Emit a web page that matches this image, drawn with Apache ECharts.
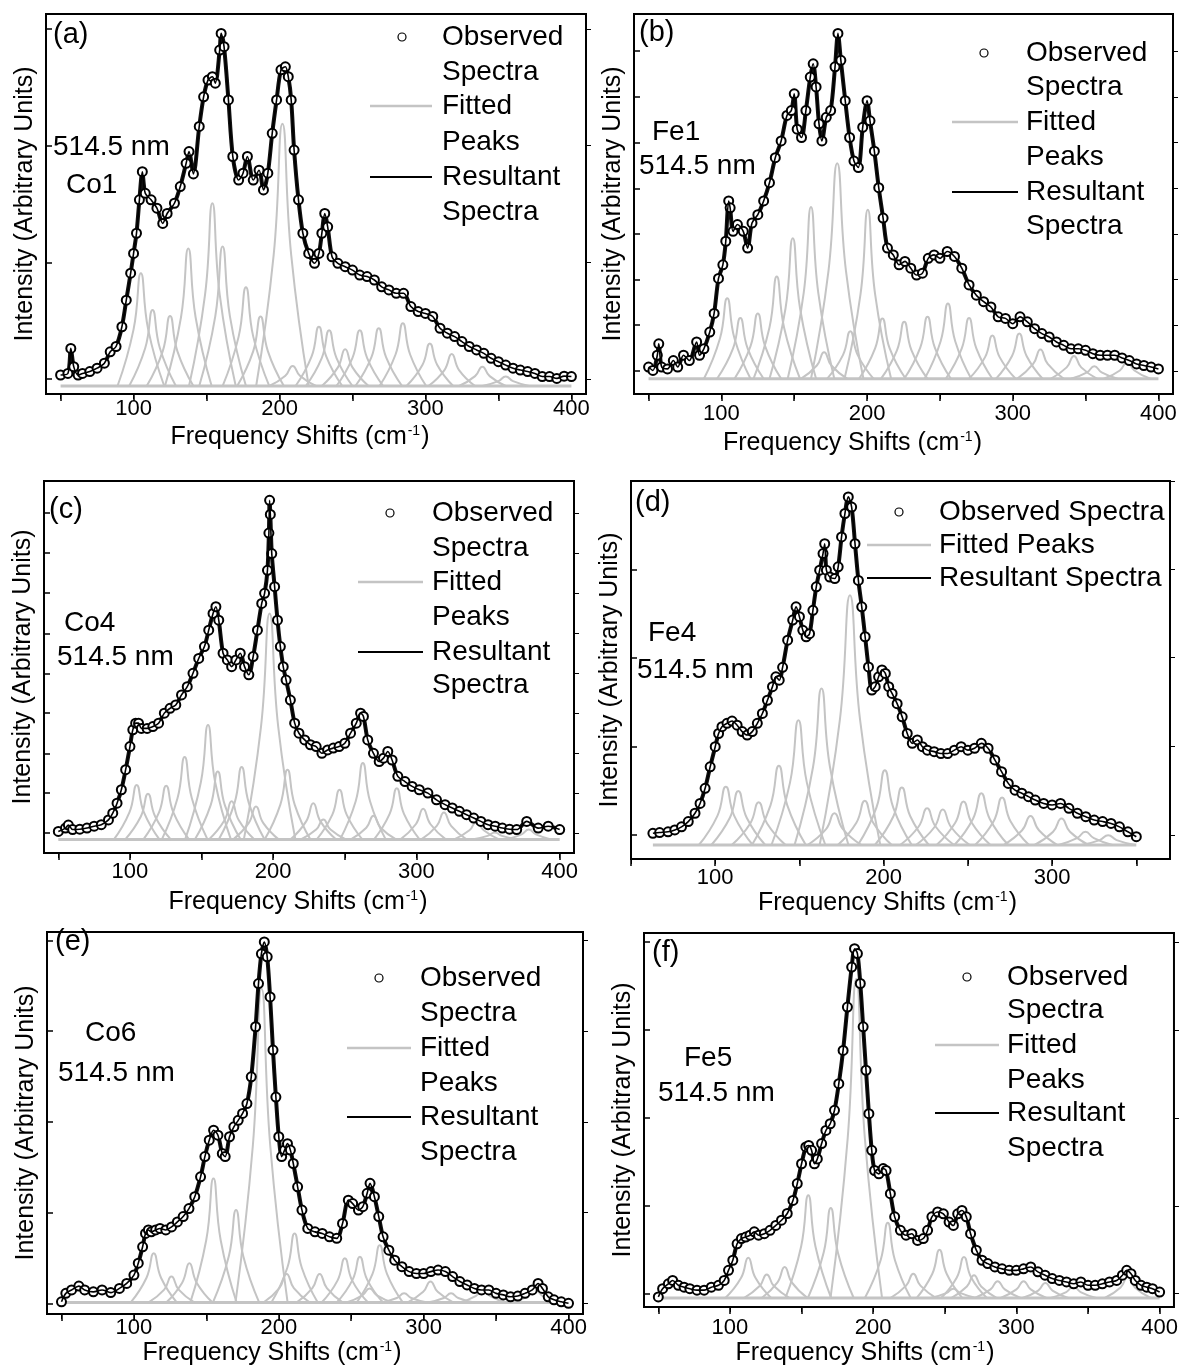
<!DOCTYPE html>
<html>
<head>
<meta charset="utf-8">
<script src="https://cdn.jsdelivr.net/npm/echarts@6/dist/echarts.min.js"></script>
<style>
  html, body { margin: 0; background: #fff; }
  #chart { width: 1181px; height: 1372px; }
</style>
</head>
<body>
<div id="chart"></div>
<script>
// Raman spectra, six samples. y is read as % of plot height (arbitrary units)
const xTicks = [50, 100, 150, 200, 250, 300, 350, 400];
const xLabels = [100, 200, 300, 400];

const yTicksA = [3.9, 34.6, 65.4, 96];
const yTicksB = [6, 18.1, 30.1, 42.1, 54.1, 66.2, 78.2, 90.3];
const yTicksC = [5.4, 16.1, 26.8, 37.6, 48.3, 59, 69.9, 80.7, 91.4];
const yTicksD = [6.3, 29.8, 53.3, 76.6, 100];
const yTicksE = [2.8, 26.6, 50.3, 74.1, 97.8];
const yTicksF = [3.6, 27, 50.6, 74, 97.6];

// baseline level of the fitted peaks
const baseA = 2.1, baseB = 4.0, baseC = 3.6, baseD = 3.7, baseE = 3.0, baseF = 2.4;

// observed spectra [shift, intensity]
const obsA = [[50,5.0],[55,5.4],[57,12.0],[59,7.2],[62,5.0],[65,5.4],[70,5.9],[75,6.8],[80,8.1],[84,11.1],[88,12.5],[92,17.7],[95,24.7],[98,31.8],[100,37.0],[102,42.3],[104,51.1],[106,58.5],[108,52.8],[112,51.1],[116,48.9],[120,44.9],[123,47.5],[128,50.2],[132,54.6],[136,60.7],[138,63.8],[141,57.9],[145,70.4],[148,78.2],[151,82.6],[154,83.5],[156,81.8],[159,90.5],[160,94.9],[162,91.4],[165,77.4],[168,62.5],[172,56.3],[175,58.1],[178,62.5],[182,56.3],[186,58.9],[189,53.7],[192,58.1],[195,68.6],[198,77.4],[201,85.3],[204,86.1],[206,83.5],[208,77.4],[210,64.2],[213,51.1],[216,42.3],[220,37.0],[224,34.4],[227,37.0],[229,42.3],[231,47.5],[233,44.0],[236,36.1],[240,34.4],[245,33.5],[250,32.6],[255,31.3],[260,30.9],[265,30.0],[270,28.2],[275,27.4],[280,26.5],[285,26.5],[290,23.0],[295,21.7],[300,21.2],[305,20.4],[310,17.3],[315,16.0],[320,15.1],[325,13.8],[330,12.5],[335,11.6],[340,10.7],[345,9.4],[350,8.5],[355,7.6],[360,6.8],[365,6.3],[370,5.9],[375,5.4],[380,4.6],[385,4.6],[390,4.1],[395,4.7],[400,4.6]];
const obsB = [[50,7.1],[53,6.2],[56,10.2],[57,13.2],[59,7.1],[63,6.6],[67,8.8],[70,7.1],[74,10.2],[78,8.8],[83,13.7],[85,10.2],[88,11.9],[92,16.3],[95,21.2],[98,30.4],[101,34.0],[103,40.2],[105,50.8],[106,49.0],[108,42.8],[111,44.6],[115,42.8],[118,38.4],[121,45.0],[125,47.2],[129,50.8],[133,55.6],[137,62.2],[141,66.6],[145,73.3],[148,74.6],[150,79.0],[152,69.7],[155,67.5],[158,74.6],[161,83.4],[163,86.9],[165,80.8],[167,71.1],[169,66.6],[172,72.8],[175,74.6],[178,86.1],[180,94.9],[182,87.8],[185,77.2],[188,67.5],[191,61.3],[194,59.6],[197,70.2],[200,77.2],[202,71.9],[205,63.9],[208,54.3],[211,46.3],[214,38.4],[218,36.6],[222,34.0],[226,34.9],[230,33.1],[234,31.3],[238,31.8],[242,35.7],[246,36.6],[250,35.7],[255,37.5],[260,36.2],[265,33.1],[270,28.7],[275,26.0],[280,24.3],[285,22.9],[290,20.3],[295,19.9],[300,18.5],[305,20.3],[310,19.0],[315,17.2],[320,15.9],[325,15.0],[330,13.7],[335,12.8],[340,11.9],[345,11.9],[350,11.5],[355,10.6],[360,10.2],[365,10.2],[370,10.2],[375,9.5],[380,8.8],[385,7.9],[390,7.5],[395,7.1],[400,6.6]];
const obsC = [[50,5.8],[55,6.7],[57,7.5],[60,6.3],[65,6.4],[70,6.7],[75,7.2],[80,7.6],[85,8.9],[88,10.7],[91,13.4],[94,17.0],[97,22.4],[100,28.6],[102,33.1],[104,34.9],[106,34.9],[108,33.5],[112,33.5],[116,34.0],[120,34.9],[124,37.6],[128,38.9],[132,39.8],[136,42.5],[140,44.7],[144,48.3],[148,52.3],[152,55.5],[155,59.9],[158,64.4],[160,66.2],[162,62.6],[165,53.7],[168,51.9],[171,50.1],[174,51.9],[177,53.7],[180,50.1],[183,47.9],[186,52.8],[189,59.9],[192,67.1],[194,69.8],[196,76.0],[197,86.0],[197.5,94.8],[198,91.0],[199,80.5],[201,71.6],[203,62.6],[205,55.5],[207,50.1],[209,46.5],[212,41.1],[215,34.9],[218,32.2],[222,30.4],[226,29.1],[230,28.6],[234,26.8],[238,27.7],[242,28.2],[246,28.6],[250,29.5],[254,32.2],[258,34.9],[261,37.6],[263,36.7],[266,30.4],[270,26.8],[274,24.6],[277,25.5],[280,27.3],[283,25.0],[287,20.6],[292,19.2],[297,17.9],[302,17.0],[308,16.1],[314,14.3],[320,13.0],[325,12.1],[330,11.2],[335,10.3],[340,9.4],[345,8.5],[350,7.6],[355,7.2],[360,6.7],[365,6.4],[370,6.3],[377,8.5],[385,6.7],[392,7.2],[400,6.3]];
const obsD = [[63,6.8],[67,7.0],[72,7.2],[76,7.7],[80,8.5],[84,9.9],[88,12.1],[91,14.7],[94,18.7],[97,24.4],[100,29.7],[102,33.2],[104,35.0],[107,35.9],[110,36.5],[113,35.4],[116,33.7],[119,32.8],[122,33.7],[125,35.9],[128,38.5],[131,42.0],[134,45.6],[136,48.2],[138,47.3],[140,50.7],[143,57.9],[146,63.2],[148,66.7],[150,64.1],[152,60.5],[154,58.8],[156,59.6],[158,65.8],[160,72.0],[162,76.4],[164,80.8],[165,83.4],[166,76.4],[168,74.6],[171,74.2],[173,77.3],[175,85.2],[177,91.4],[179,95.8],[181,93.1],[183,83.4],[185,73.7],[187,66.7],[189,58.8],[191,50.8],[193,44.7],[195,45.6],[197,48.2],[199,50.0],[201,49.1],[203,45.6],[205,43.8],[208,41.1],[211,37.6],[214,33.2],[217,30.6],[220,31.5],[223,29.7],[226,28.8],[230,28.4],[234,27.9],[238,27.9],[242,28.8],[246,29.7],[250,28.8],[254,29.3],[258,30.6],[262,29.3],[266,26.2],[270,23.1],[274,20.0],[278,18.2],[282,17.4],[286,16.5],[290,15.6],[295,14.7],[300,14.3],[305,14.7],[310,13.4],[315,12.1],[320,11.2],[325,10.3],[330,9.9],[335,9.4],[340,8.5],[345,7.2],[350,5.9]];
const obsE = [[50,3.2],[53,5.4],[57,6.3],[62,7.3],[66,6.3],[72,5.8],[78,6.3],[84,5.6],[90,6.7],[95,8.0],[100,10.2],[103,13.3],[106,17.6],[108,21.1],[110,22.0],[112,21.5],[115,22.0],[118,22.4],[122,22.0],[126,22.8],[130,24.1],[134,25.5],[138,27.6],[142,30.7],[146,35.9],[149,41.2],[152,45.5],[155,48.1],[158,46.8],[161,42.0],[163,41.2],[166,46.4],[169,49.0],[172,50.7],[175,52.5],[178,55.1],[181,62.1],[184,75.2],[186,86.5],[188,94.3],[190,97.4],[192,93.5],[194,83.0],[196,69.1],[198,56.8],[200,46.4],[202,41.2],[204,42.9],[206,44.6],[208,42.9],[210,39.4],[213,33.3],[216,27.2],[220,22.4],[225,21.5],[230,21.1],[235,20.2],[240,19.8],[244,23.7],[248,29.8],[251,28.9],[255,27.2],[258,28.1],[261,31.6],[263,34.2],[266,30.7],[269,25.5],[272,20.2],[276,16.7],[280,14.1],[285,12.4],[290,11.1],[295,10.6],[300,10.6],[305,11.1],[310,11.5],[315,11.1],[320,9.8],[325,8.5],[330,7.6],[335,6.7],[340,6.3],[345,6.3],[350,5.4],[355,5.0],[360,4.5],[365,4.7],[370,5.4],[375,6.3],[379,8.0],[382,6.7],[386,4.5],[390,3.7],[395,3.2],[400,2.8]];
const obsF = [[50,2.7],[53,4.9],[57,6.2],[60,7.1],[64,5.8],[68,5.3],[72,4.9],[77,4.5],[82,4.5],[87,5.3],[92,5.8],[96,7.1],[99,9.8],[102,12.5],[105,16.9],[108,18.3],[111,18.7],[114,19.2],[117,20.1],[120,19.2],[124,19.6],[128,20.5],[132,21.8],[136,23.2],[140,25.0],[144,28.5],[147,33.0],[150,38.3],[153,42.8],[155,43.2],[157,41.9],[159,38.3],[161,39.6],[164,43.7],[167,47.2],[170,49.0],[173,52.6],[176,59.7],[179,68.6],[182,80.2],[185,90.9],[187,95.8],[189,94.5],[191,86.5],[193,74.9],[195,63.3],[197,51.7],[199,41.9],[201,36.5],[204,35.6],[207,37.0],[209,36.5],[212,30.3],[215,24.1],[219,20.5],[223,19.2],[227,19.6],[231,17.8],[235,18.3],[238,20.5],[241,24.1],[245,25.4],[249,24.9],[253,22.7],[256,21.8],[259,24.9],[262,25.8],[265,24.1],[268,19.6],[272,15.2],[276,12.5],[280,11.6],[285,10.7],[290,10.2],[295,9.8],[300,9.8],[305,10.2],[310,10.7],[315,9.4],[320,8.5],[325,7.6],[330,7.1],[335,6.7],[340,6.2],[345,6.7],[350,5.8],[355,5.8],[360,6.2],[365,6.7],[370,7.1],[374,8.5],[377,9.8],[380,8.9],[383,7.1],[387,5.8],[391,5.3],[395,4.9],[400,4.0]];

// fitted peaks: foot, half height, top, half height, foot
const peaksA = [
  [[89,2.1],[100,17.0],[105,31.8],[110,17.0],[121,2.1]],
  [[97,2.1],[108,12.1],[113,22.1],[118,12.1],[129,2.1]],
  [[109,2.1],[120,11.3],[125,20.5],[130,11.3],[141,2.1]],
  [[121.5,2.1],[132.5,20.2],[137.5,38.3],[142.5,20.2],[153.5,2.1]],
  [[138,2.1],[149,26.2],[154,50.2],[159,26.2],[170,2.1]],
  [[145,2.1],[156,20.5],[161,38.8],[166,20.5],[177,2.1]],
  [[161,2.1],[172,15.1],[177,28.1],[182,15.1],[193,2.1]],
  [[171,2.1],[182,11.3],[187,20.4],[192,11.3],[203,2.1]],
  [[184,2.1],[196,36.6],[202,71.1],[208,36.6],[220,2.1]],
  [[193,2.1],[204,4.8],[209,7.4],[214,4.8],[225,2.1]],
  [[211,2.1],[222,9.9],[227,17.7],[232,9.9],[243,2.1]],
  [[218,2.1],[229,9.5],[234,16.8],[239,9.5],[250,2.1]],
  [[229,2.1],[240,7.0],[245,11.8],[250,7.0],[261,2.1]],
  [[239,2.1],[250,9.5],[255,16.8],[260,9.5],[271,2.1]],
  [[252,2.1],[263,9.7],[268,17.3],[273,9.7],[284,2.1]],
  [[268.5,2.1],[279.5,10.4],[284.5,18.6],[289.5,10.4],[300.5,2.1]],
  [[287,2.1],[298,7.7],[303,13.3],[308,7.7],[319,2.1]],
  [[302,2.1],[313,6.3],[318,10.5],[323,6.3],[334,2.1]],
  [[323,2.1],[334,4.7],[339,7.2],[344,4.7],[355,2.1]],
  [[339,2.1],[350,3.4],[355,4.6],[360,3.4],[371,2.1]]
];
const peaksB = [
  [[88,4],[99,14.6],[104,25.2],[109,14.6],[120,4]],
  [[97,4],[108,12.0],[113,20.0],[118,12.0],[129,4]],
  [[109,4],[120,12.6],[125,21.2],[130,12.6],[141,4]],
  [[122,4],[133,17.5],[138,30.9],[143,17.5],[154,4]],
  [[133,4],[144,22.5],[149,41.0],[154,22.5],[165,4]],
  [[145.5,4],[156.5,26.6],[161.5,49.2],[166.5,26.6],[177.5,4]],
  [[154.5,4],[165.5,7.5],[170.5,11.0],[175.5,7.5],[186.5,4]],
  [[161.5,4],[173.5,32.4],[179.5,60.7],[185.5,32.4],[197.5,4]],
  [[172.5,4],[183.5,10.3],[188.5,16.5],[193.5,10.3],[204.5,4]],
  [[184.5,4],[195.5,26.3],[200.5,48.5],[205.5,26.3],[216.5,4]],
  [[194.5,4],[205.5,12.0],[210.5,19.9],[215.5,12.0],[226.5,4]],
  [[209.5,4],[220.5,11.5],[225.5,19.0],[230.5,11.5],[241.5,4]],
  [[225.5,4],[236.5,12.2],[241.5,20.3],[246.5,12.2],[257.5,4]],
  [[239.5,4],[250.5,13.9],[255.5,23.8],[260.5,13.9],[271.5,4]],
  [[254,4],[265,12.0],[270,20.0],[275,12.0],[286,4]],
  [[270,4],[281,9.7],[286,15.4],[291,9.7],[302,4]],
  [[288.5,4],[299.5,10.0],[304.5,15.9],[309.5,10.0],[320.5,4]],
  [[303,4],[314,7.9],[319,11.7],[324,7.9],[335,4]],
  [[326,4],[337,7.0],[342,10.0],[347,7.0],[358,4]],
  [[340,4],[351,5.7],[356,7.3],[361,5.7],[372,4]],
  [[362.5,4],[373.5,6.2],[378.5,8.4],[383.5,6.2],[394.5,4]]
];
const peaksC = [
  [[88.7,3.6],[99.7,11.0],[104.7,18.3],[109.7,11.0],[120.7,3.6]],
  [[96.6,3.6],[107.6,9.8],[112.6,15.9],[117.6,9.8],[128.6,3.6]],
  [[109.3,3.6],[120.3,10.9],[125.3,18.1],[130.3,10.9],[141.3,3.6]],
  [[122.2,3.6],[133.2,14.7],[138.2,25.8],[143.2,14.7],[154.2,3.6]],
  [[138.5,3.6],[149.5,19.0],[154.5,34.4],[159.5,19.0],[170.5,3.6]],
  [[145.3,3.6],[156.3,12.8],[161.3,21.9],[166.3,12.8],[177.3,3.6]],
  [[155,3.6],[166,8.8],[171,13.9],[176,8.8],[187,3.6]],
  [[162,3.6],[173,13.4],[178,23.1],[183,13.4],[194,3.6]],
  [[172,3.6],[183,8.1],[188,12.5],[193,8.1],[204,3.6]],
  [[179.5,3.6],[191.5,34.0],[197.5,64.4],[203.5,34.0],[215.5,3.6]],
  [[194,3.6],[205,13.0],[210,22.4],[215,13.0],[226,3.6]],
  [[212,3.6],[223,8.5],[228,13.4],[233,8.5],[244,3.6]],
  [[219,3.6],[230,6.3],[235,9.0],[240,6.3],[251,3.6]],
  [[230.3,3.6],[241.3,10.3],[246.3,17.0],[251.3,10.3],[262.3,3.6]],
  [[246.6,3.6],[257.6,13.9],[262.6,24.2],[267.6,13.9],[278.6,3.6]],
  [[254,3.6],[265,6.8],[270,10.0],[275,6.8],[286,3.6]],
  [[270.3,3.6],[281.3,10.5],[286.3,17.4],[291.3,10.5],[302.3,3.6]],
  [[288.7,3.6],[299.7,7.8],[304.7,11.9],[309.7,7.8],[320.7,3.6]],
  [[303.2,3.6],[314.2,7.3],[319.2,10.9],[324.2,7.3],[335.2,3.6]],
  [[326,3.6],[337,6.1],[342,8.5],[347,6.1],[358,3.6]],
  [[338.7,3.6],[349.7,4.6],[354.7,5.5],[359.7,4.6],[370.7,3.6]],
  [[362.4,3.6],[373.4,5.0],[378.4,6.3],[383.4,5.0],[394.4,3.6]]
];
const peaksD = [
  [[90.3,3.7],[101.3,11.4],[106.3,19.1],[111.3,11.4],[122.3,3.7]],
  [[97.7,3.7],[108.7,10.9],[113.7,18.0],[118.7,10.9],[129.7,3.7]],
  [[109.8,3.7],[120.8,9.4],[125.8,15.0],[130.8,9.4],[141.8,3.7]],
  [[121.8,3.7],[132.8,14.2],[137.8,24.7],[142.8,14.2],[153.8,3.7]],
  [[133.4,3.7],[144.4,20.2],[149.4,36.7],[154.4,20.2],[165.4,3.7]],
  [[147.1,3.7],[158.1,24.4],[163.1,45.1],[168.1,24.4],[179.1,3.7]],
  [[154.8,3.7],[165.8,7.9],[170.8,12.1],[175.8,7.9],[186.8,3.7]],
  [[162,3.7],[174,36.8],[180,69.8],[186,36.8],[198,3.7]],
  [[172.8,3.7],[183.8,9.6],[188.8,15.4],[193.8,9.6],[204.8,3.7]],
  [[184.7,3.7],[195.7,13.6],[200.7,23.5],[205.7,13.6],[216.7,3.7]],
  [[194.8,3.7],[205.8,11.3],[210.8,18.9],[215.8,11.3],[226.8,3.7]],
  [[209.8,3.7],[220.8,8.6],[225.8,13.4],[230.8,8.6],[241.8,3.7]],
  [[219.1,3.7],[230.1,8.4],[235.1,13.1],[240.1,8.4],[251.1,3.7]],
  [[231.4,3.7],[242.4,9.5],[247.4,15.2],[252.4,9.5],[263.4,3.7]],
  [[242,3.7],[253,10.6],[258,17.4],[263,10.6],[274,3.7]],
  [[254.3,3.7],[265.3,10.0],[270.3,16.3],[275.3,10.0],[286.3,3.7]],
  [[271.2,3.7],[282.2,7.6],[287.2,11.4],[292.2,7.6],[303.2,3.7]],
  [[289.6,3.7],[300.6,7.2],[305.6,10.7],[310.6,7.2],[321.6,3.7]],
  [[303.8,3.7],[314.8,5.5],[319.8,7.2],[324.8,5.5],[335.8,3.7]],
  [[317.3,3.7],[328.3,5.0],[333.3,6.3],[338.3,5.0],[349.3,3.7]]
];
const peaksE = [
  [[97.7,3],[108.7,9.5],[113.7,15.9],[118.7,9.5],[129.7,3]],
  [[109.9,3],[120.9,6.4],[125.9,9.8],[130.9,6.4],[141.9,3]],
  [[122.3,3],[133.3,8.2],[138.3,13.3],[143.3,8.2],[154.3,3]],
  [[138.9,3],[149.9,19.3],[154.9,35.5],[159.9,19.3],[170.9,3]],
  [[154.5,3],[165.5,15.1],[170.5,27.2],[175.5,15.1],[186.5,3]],
  [[170.1,3],[182.1,44.1],[188.1,85.2],[194.1,44.1],[206.1,3]],
  [[189.4,3],[200.4,6.8],[205.4,10.5],[210.4,6.8],[221.4,3]],
  [[194.9,3],[205.9,12.1],[210.9,21.1],[215.9,12.1],[226.9,3]],
  [[212.2,3],[223.2,6.8],[228.2,10.5],[233.2,6.8],[244.2,3]],
  [[229.6,3],[240.6,8.8],[245.6,14.6],[250.6,8.8],[261.6,3]],
  [[240,3],[251,9.0],[256,15.0],[261,9.0],[272,3]],
  [[246.7,3],[257.7,4.9],[262.7,6.7],[267.7,4.9],[278.7,3]],
  [[253.7,3],[264.7,10.5],[269.7,18.0],[274.7,10.5],[285.7,3]],
  [[270.5,3],[281.5,4.2],[286.5,5.4],[291.5,4.2],[302.5,3]],
  [[288.7,3],[299.7,5.8],[304.7,8.5],[309.7,5.8],[320.7,3]],
  [[302.9,3],[313.9,4.2],[318.9,5.4],[323.9,4.2],[334.9,3]],
  [[324.9,3],[335.9,4.7],[340.9,6.3],[345.9,4.7],[356.9,3]],
  [[361.2,3],[372.2,4.7],[377.2,6.3],[382.2,4.7],[393.2,3]]
];
const peaksF = [
  [[96.8,2.4],[107.8,7.8],[112.8,13.2],[117.8,7.8],[128.8,2.4]],
  [[109.7,2.4],[120.7,5.6],[125.7,8.7],[130.7,5.6],[141.7,2.4]],
  [[122.2,2.4],[133.2,6.6],[138.2,10.7],[143.2,6.6],[154.2,2.4]],
  [[138.7,2.4],[149.7,16.2],[154.7,29.9],[159.7,16.2],[170.7,2.4]],
  [[154.4,2.4],[165.4,14.5],[170.4,26.5],[175.4,14.5],[186.4,2.4]],
  [[170.2,2.4],[182.2,45.1],[188.2,87.8],[194.2,45.1],[206.2,2.4]],
  [[194.2,2.4],[205.2,12.5],[210.2,22.5],[215.2,12.5],[226.2,2.4]],
  [[212,2.4],[223,5.7],[228,8.9],[233,5.7],[244,2.4]],
  [[230.3,2.4],[241.3,8.9],[246.3,15.3],[251.3,8.9],[262.3,2.4]],
  [[240,2.4],[251,3.7],[256,4.9],[261,3.7],[272,2.4]],
  [[247.4,2.4],[258.4,7.9],[263.4,13.4],[268.4,7.9],[279.4,2.4]],
  [[254.4,2.4],[265.4,5.5],[270.4,8.5],[275.4,5.5],[286.4,2.4]],
  [[270.9,2.4],[281.9,4.7],[286.9,6.9],[291.9,4.7],[302.9,2.4]],
  [[289,2.4],[300,4.7],[305,6.9],[310,4.7],[321,2.4]],
  [[304.2,2.4],[315.2,4.4],[320.2,6.4],[325.2,4.4],[336.2,2.4]],
  [[323.8,2.4],[334.8,4.0],[339.8,5.5],[344.8,4.0],[355.8,2.4]],
  [[361.7,2.4],[372.7,5.2],[377.7,8.0],[382.7,5.2],[393.7,2.4]]
];

const FONT = '"Liberation Sans", Arial, sans-serif';
const GREY = '#c4c4c4';
const TWO_LINE = ['Observed', 'Spectra', 'Fitted', 'Peaks', 'Resultant', 'Spectra'];

// layout of each panel (pixels)
const panels = [
  { obs: obsA, peaks: peaksA, base: baseA, yTicks: yTicksA, xMin: 40, xMax: 410,
    grid: { left: 46, top: 14, width: 540, height: 380 }, labelMargin: 4, nameGap: 30, nameShift: 32,
    tag: ['(a)', 53, 35], notes: [['514.5 nm', 53, 147], ['Co1', 66, 185]],
    legend: { texts: TWO_LINE, ys: [37, 72, 106, 142, 177, 212], tx: 442, cx: 402, lx: [370, 432], rows: [0, 2, 4] } },
  { obs: obsB, peaks: peaksB, base: baseB, yTicks: yTicksB, xMin: 40, xMax: 410,
    grid: { left: 634, top: 14, width: 539, height: 380 }, labelMargin: 9, nameGap: 36, nameShift: 102,
    tag: ['(b)', 639, 33], notes: [['Fe1', 652, 132], ['514.5 nm', 639, 166]],
    legend: { texts: TWO_LINE, ys: [53, 87, 122, 157, 192, 226], tx: 1026, cx: 984, lx: [952, 1018], rows: [0, 2, 4] } },
  { obs: obsC, peaks: peaksC, base: baseC, yTicks: yTicksC, xMin: 40, xMax: 410,
    grid: { left: 44, top: 481, width: 530, height: 372 }, labelMargin: 8, nameGap: 36, nameShift: 22,
    tag: ['(c)', 49, 510], notes: [['Co4', 64, 623], ['514.5 nm', 57, 657]],
    legend: { texts: TWO_LINE, ys: [513, 548, 582, 617, 652, 685], tx: 432, cx: 390, lx: [358, 423], rows: [0, 2, 4] } },
  { obs: obsD, peaks: peaksD, base: baseD, yTicks: yTicksD, xMin: 50, xMax: 370,
    grid: { left: 631, top: 481, width: 539, height: 378 }, labelMargin: 8, nameGap: 31, nameShift: 26,
    tag: ['(d)', 635, 503], notes: [['Fe4', 648, 633], ['514.5 nm', 637, 670]],
    legend: { texts: ['Observed Spectra', 'Fitted Peaks', 'Resultant Spectra'], ys: [512, 545, 578], tx: 939, cx: 899, lx: [867, 931], rows: [0, 1, 2] } },
  { obs: obsE, peaks: peaksE, base: baseE, yTicks: yTicksE, xMin: 40, xMax: 410,
    grid: { left: 47, top: 932, width: 536, height: 382 }, labelMargin: 3, nameGap: 26, nameShift: 86,
    tag: ['(e)', 55, 942], notes: [['Co6', 85, 1033], ['514.5 nm', 58, 1073]],
    legend: { texts: TWO_LINE, ys: [978, 1013, 1048, 1083, 1117, 1152], tx: 420, cx: 379, lx: [347, 411], rows: [0, 2, 4] } },
  { obs: obsF, peaks: peaksF, base: baseF, yTicks: yTicksF, xMin: 40, xMax: 410,
    grid: { left: 644, top: 933, width: 534, height: 374 }, labelMargin: 10, nameGap: 32, nameShift: 88,
    tag: ['(f)', 652, 953], notes: [['Fe5', 684, 1058], ['514.5 nm', 658, 1093]],
    legend: { texts: TWO_LINE, ys: [977, 1010, 1045, 1080, 1113, 1148], tx: 1007, cx: 967, lx: [935, 999], rows: [0, 2, 4] } }
];

const grids = [], xAxes = [], yAxes = [], series = [], graphics = [];

function txt(s, x, y, size) {
  return { type: 'text', x: x, y: y, silent: true,
    style: { text: s, font: size + 'px ' + FONT, fill: '#000', verticalAlign: 'middle' } };
}

panels.forEach((p, i) => {
  grids.push(Object.assign({ show: true, borderColor: '#000', borderWidth: 2, backgroundColor: '#fff' }, p.grid));

  xAxes.push({
    gridIndex: i, type: 'value', min: p.xMin, max: p.xMax, position: 'bottom',
    axisLine: { show: false },
    axisTick: { show: true, length: 7, customValues: xTicks.filter(v => v >= p.xMin && v <= p.xMax), lineStyle: { color: '#000', width: 1.5 } },
    axisLabel: { customValues: xLabels.filter(v => v <= p.xMax), fontSize: 22, color: '#000', fontFamily: FONT, margin: p.labelMargin },
    splitLine: { show: false },
    name: 'Frequency Shifts (cm{sup|-1})', nameLocation: 'middle', nameGap: p.nameGap,
    nameTextStyle: { fontSize: 25, color: '#000', fontFamily: FONT, padding: [0, p.nameShift, 0, 0],
      rich: { sup: { fontSize: 14, color: '#000', fontFamily: FONT, verticalAlign: 'top', padding: [0, 1, 12, 1] } } }
  });
  xAxes.push({
    gridIndex: i, type: 'value', min: p.xMin, max: p.xMax, position: 'top',
    axisLine: { show: false },
    axisTick: { show: true, inside: true, length: 5, customValues: xTicks.filter(v => v >= p.xMin && v <= p.xMax), lineStyle: { color: '#000' } },
    axisLabel: { show: false }, splitLine: { show: false }
  });
  yAxes.push({
    gridIndex: i, type: 'value', min: 0, max: 100, position: 'left',
    axisLine: { show: false },
    axisTick: { show: true, inside: true, length: 6, customValues: p.yTicks, lineStyle: { color: '#000', width: 1.5 } },
    axisLabel: { show: false }, splitLine: { show: false },
    name: 'Intensity (Arbitrary Units)', nameLocation: 'middle', nameGap: 8,
    nameTextStyle: { fontSize: 25, color: '#000', fontFamily: FONT }
  });
  yAxes.push({
    gridIndex: i, type: 'value', min: 0, max: 100, position: 'right',
    axisLine: { show: false },
    axisTick: { show: true, length: 5, customValues: p.yTicks, lineStyle: { color: '#000' } },
    axisLabel: { show: false }, splitLine: { show: false }
  });

  const ax = { xAxisIndex: i * 2, yAxisIndex: i * 2 };
  const first = p.obs[0][0], last = p.obs[p.obs.length - 1][0];

  // grey baseline under the fitted peaks
  series.push(Object.assign({ type: 'line', data: [[first, p.base], [last, p.base]], symbol: 'none',
    lineStyle: { color: GREY, width: 3 }, silent: true, z: 2 }, ax));
  p.peaks.forEach(pk => {
    series.push(Object.assign({ type: 'line', data: pk, smooth: 0.5, symbol: 'none',
      lineStyle: { color: GREY, width: 2 }, silent: true, z: 2 }, ax));
  });
  // observed points: dense open circles in the original, so a thick dark trace under the circles
  series.push(Object.assign({ type: 'line', data: p.obs, smooth: 0.3, symbol: 'emptyCircle', symbolSize: 9, showAllSymbol: true,
    lineStyle: { color: '#111', width: 4 },
    itemStyle: { color: '#000', borderColor: '#000', borderWidth: 1.3 }, silent: true, z: 3 }, ax));
  // resultant line
  series.push(Object.assign({ type: 'line', data: p.obs, smooth: 0.3, symbol: 'none',
    lineStyle: { color: '#000', width: 1.6 }, silent: true, z: 4 }, ax));

  // annotations and hand-made legend
  graphics.push(txt(p.tag[0], p.tag[1], p.tag[2], 29));
  p.notes.forEach(n => graphics.push(txt(n[0], n[1], n[2], 28)));
  const lg = p.legend;
  lg.texts.forEach((t, k) => graphics.push(txt(t, lg.tx, lg.ys[k], 28)));
  graphics.push({ type: 'circle', silent: true, shape: { cx: lg.cx, cy: lg.ys[lg.rows[0]], r: 4 },
    style: { fill: '#fff', stroke: '#000', lineWidth: 1.2 }, z: 100 });
  graphics.push({ type: 'line', silent: true, shape: { x1: lg.lx[0], y1: lg.ys[lg.rows[1]], x2: lg.lx[1], y2: lg.ys[lg.rows[1]] },
    style: { stroke: GREY, lineWidth: 2.5 }, z: 100 });
  graphics.push({ type: 'line', silent: true, shape: { x1: lg.lx[0], y1: lg.ys[lg.rows[2]], x2: lg.lx[1], y2: lg.ys[lg.rows[2]] },
    style: { stroke: '#000', lineWidth: 2 }, z: 100 });
});

const chart = echarts.init(document.getElementById('chart'));
chart.setOption({
  backgroundColor: '#fff',
  animation: false,
  grid: grids,
  xAxis: xAxes,
  yAxis: yAxes,
  series: series,
  graphic: graphics
});
</script>
</body>
</html>
